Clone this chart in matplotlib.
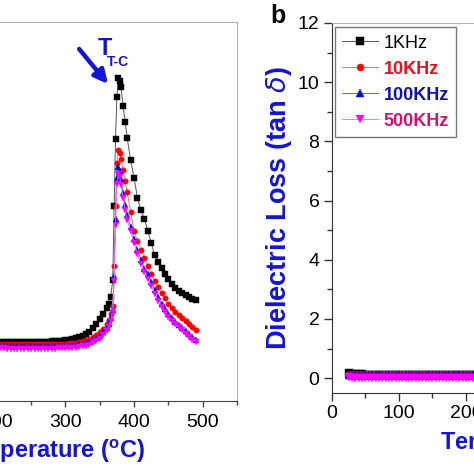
"""Dielectric loss vs temperature, two panels cropped to a 474px square."""
import matplotlib
matplotlib.use('Agg')
import matplotlib.pyplot as plt
from matplotlib.ticker import MultipleLocator

plt.rcParams['font.family'] = ['Liberation Sans', 'DejaVu Sans']
plt.rcParams['mathtext.fontset'] = 'custom'
plt.rcParams['mathtext.rm'] = 'Liberation Sans'
plt.rcParams['mathtext.bf'] = 'Liberation Sans:bold'

# ---- left panel (peak region), temperature in C ----
T_LEFT = [200, 205, 210, 215, 220, 225, 230, 235, 240, 245, 250, 255, 260, 265, 270,
          275, 280, 285, 290, 295, 300, 305, 310, 315, 320, 325, 330, 335, 340, 345,
          350, 355, 360, 363, 366, 369, 371, 373, 375, 377, 379, 381, 384, 387, 390,
          395, 400, 405, 410, 415, 420, 425, 430, 435, 440, 445, 450, 455, 460, 465,
          470, 475, 480, 485, 490]
LEFT_1K = [595, 593, 592, 590, 590, 589, 589, 588, 588, 588, 589, 589, 590, 591, 592,
           594, 596, 598, 600, 604, 608, 613, 620, 628, 638, 650, 668, 695, 730, 772,
           820, 872, 930, 975, 1045, 1210, 1950, 2620, 3040, 3230, 3200, 3140, 2950, 2790, 2630,
           2410, 2230, 2030, 1910, 1820, 1700, 1580, 1460, 1390, 1330, 1270, 1220, 1170, 1130, 1105,
           1080, 1060, 1040, 1025, 1010]
LEFT_10K = [572, 571, 570, 569, 568, 567, 567, 566, 566, 566, 566, 566, 566, 567, 567,
            568, 569, 570, 571, 572, 574, 577, 580, 585, 590, 598, 608, 622, 640, 662,
            690, 722, 770, 810, 870, 950, 1350, 1950, 2380, 2510, 2480, 2420, 2310, 2200, 2090,
            1890, 1700, 1600, 1510, 1430, 1350, 1270, 1200, 1140, 1080, 1030, 975, 930, 890, 860,
            830, 800, 770, 740, 710]
LEFT_100K = [552, 551, 550, 549, 548, 547, 547, 546, 546, 546, 546, 546, 546, 546, 547,
             547, 548, 549, 550, 551, 553, 555, 558, 562, 567, 574, 583, 595, 610, 630,
             655, 690, 735, 775, 835, 915, 1250, 1820, 2230, 2340, 2300, 2220, 2080, 1960, 1860,
             1740, 1620, 1510, 1410, 1320, 1270, 1190, 1110, 1040, 970, 920, 870, 830, 795, 765,
             735, 700, 670, 640, 612]
LEFT_500K = [528, 527, 526, 525, 524, 523, 523, 522, 522, 522, 522, 522, 522, 522, 523,
             523, 524, 525, 526, 527, 528, 530, 532, 535, 540, 546, 554, 565, 580, 600,
             625, 660, 705, 745, 805, 885, 1200, 1760, 2170, 2270, 2240, 2160, 2030, 1910, 1810,
             1700, 1580, 1470, 1375, 1290, 1225, 1150, 1075, 1005, 940, 890, 845, 805, 770, 740,
             710, 675, 645, 615, 590]

# ---- right panel (b), low-temperature part of tan delta ----
T_RIGHT = [25, 30, 35, 40, 45, 50, 55, 60, 65, 70,
           75, 80, 85, 90, 95, 100, 105, 110, 115, 120,
           125, 130, 135, 140, 145, 150, 155, 160, 165, 170,
           175, 180, 185, 190, 195, 200, 205, 210, 215, 220]
TAN_1K = [0.17, 0.14, 0.13, 0.13, 0.13, 0.12, 0.12, 0.12, 0.12, 0.12,
          0.12, 0.12, 0.12, 0.12, 0.11, 0.11, 0.11, 0.11, 0.11, 0.11,
          0.11, 0.11, 0.11, 0.11, 0.11, 0.11, 0.11, 0.11, 0.11, 0.11,
          0.11, 0.11, 0.11, 0.11, 0.11, 0.11, 0.11, 0.11, 0.11, 0.11]
TAN_10K = [0.12, 0.11, 0.11, 0.11, 0.11, 0.11, 0.11, 0.11, 0.11, 0.11,
           0.10, 0.10, 0.10, 0.10, 0.10, 0.10, 0.10, 0.10, 0.10, 0.10,
           0.10, 0.10, 0.10, 0.10, 0.10, 0.10, 0.10, 0.10, 0.10, 0.10,
           0.10, 0.10, 0.10, 0.10, 0.10, 0.10, 0.10, 0.10, 0.10, 0.10]
TAN_100K = [0.12, 0.11, 0.11, 0.11, 0.11, 0.11, 0.11, 0.11, 0.11, 0.11,
            0.11, 0.11, 0.11, 0.11, 0.11, 0.11, 0.11, 0.11, 0.11, 0.11,
            0.11, 0.11, 0.11, 0.11, 0.11, 0.11, 0.11, 0.11, 0.11, 0.11,
            0.11, 0.11, 0.11, 0.11, 0.11, 0.11, 0.11, 0.11, 0.11, 0.11]
TAN_500K = [0.04, 0.02, 0.02, 0.01, 0.01, 0.01, 0.01, 0.01, 0.01, 0.01,
            0.01, 0.01, 0.01, 0.01, 0.01, 0.01, 0.01, 0.01, 0.01, 0.01,
            0.01, 0.01, 0.01, 0.01, 0.01, 0.01, 0.01, 0.01, 0.01, 0.01,
            0.01, 0.01, 0.01, 0.01, 0.01, 0.01, 0.01, 0.01, 0.01, 0.01]

LABELS = ['1KHz', '10KHz', '100KHz', '500KHz']
MARKERS = ['s', 'o', '^', 'v']
COLORS = ['#000000', '#ff0000', '#0000ff', '#ff00ff']
LINE_COLORS = ['#555555', '#ff7070', '#6060ff', '#ff70ff']
TEXT_COLORS = ['#000000', '#e8101c', '#1010b4', '#d0146a']
BLUE = '#1414d2'

fig = plt.figure(figsize=(4.74, 4.74), dpi=100)

# left panel, mostly outside the canvas
ax1 = fig.add_axes([-0.2964, 0.1540, 0.7964, 0.7996])
for ys, m, c, lc in zip([LEFT_1K, LEFT_10K, LEFT_100K, LEFT_500K], MARKERS, COLORS, LINE_COLORS):
    ax1.plot(T_LEFT, ys, color=lc, lw=0.7, marker=m, ms=3.9,
             markerfacecolor=c, markeredgecolor=c, markeredgewidth=0.3)
ax1.set_xlim(0, 550)
ax1.set_ylim(0, 3790)
ax1.xaxis.set_major_locator(MultipleLocator(100))
ax1.xaxis.set_minor_locator(MultipleLocator(50))
ax1.tick_params(axis='x', which='major', direction='out', length=4, width=1,
                labelsize=14, pad=5, color='#444444')
ax1.tick_params(axis='x', which='minor', direction='out', length=3, width=1, color='#444444')
ax1.tick_params(axis='y', left=False, labelleft=False)
ax1.spines['top'].set_color('#b0b0b0')
ax1.spines['right'].set_color('#b0b0b0')
ax1.spines['bottom'].set_color('#444444')
ax1.set_xlabel(r'Temperature ($^\mathbf{o}$C)', fontsize=17, fontweight='bold',
               color=BLUE, labelpad=5)
ax1.annotate('', xy=(362, 3170), xytext=(320, 3520),
             arrowprops=dict(arrowstyle='-|>', color=BLUE, lw=3.2, mutation_scale=20,
                             shrinkA=0, shrinkB=0))
ax1.text(347.5, 3460, 'T', fontsize=17, fontweight='bold', color=BLUE,
         ha='left', va='baseline')
ax1.text(360.6, 3350, 'T-C', fontsize=10, fontweight='bold', color=BLUE,
         ha='left', va='baseline')

# right panel (b)
ax2 = fig.add_axes([0.7004, 0.1709, 0.7774, 0.7806])
handles = []
for ys, lab, m, c, lc in zip([TAN_1K, TAN_10K, TAN_100K, TAN_500K], LABELS, MARKERS, COLORS, LINE_COLORS):
    h, = ax2.plot(T_RIGHT, ys, color=lc, lw=0.7, marker=m, ms=6,
                  markerfacecolor=c, markeredgecolor=c, markeredgewidth=0.3, label=lab)
    handles.append(h)
ax2.set_xlim(0, 550)
ax2.set_ylim(-0.5, 12)
ax2.xaxis.set_major_locator(MultipleLocator(100))
ax2.xaxis.set_minor_locator(MultipleLocator(50))
ax2.yaxis.set_major_locator(MultipleLocator(2))
ax2.yaxis.set_minor_locator(MultipleLocator(1))
ax2.tick_params(which='major', direction='out', length=6, width=1, labelsize=14,
                pad=3, color='#333333')
ax2.tick_params(which='minor', direction='out', length=3.5, width=1, color='#333333')
ax2.spines['top'].set_color('#b0b0b0')
ax2.spines['left'].set_color('#333333')
ax2.spines['bottom'].set_color('#333333')
ax2.set_xlabel(r'Temperature ($^\mathbf{o}$C)', fontsize=17, fontweight='bold',
               color=BLUE, labelpad=5, x=0.556)
ax2.set_ylabel(r'Dielectric Loss (tan $\delta$)', fontsize=19.5, fontweight='bold',
               color=BLUE, labelpad=2.5)

leg = ax2.legend(handles=handles, loc='upper left', bbox_to_anchor=(0.008, 0.988),
                 borderaxespad=0, fontsize=13, frameon=True, fancybox=False,
                 handlelength=2.0, handletextpad=0.3, labelspacing=0.5,
                 borderpad=0.4, markerscale=0.85)
leg.get_frame().set_edgecolor('#555555')
leg.get_frame().set_linewidth(1)
for t, tc, lab in zip(leg.get_texts(), TEXT_COLORS, LABELS):
    t.set_color(tc)
    if lab != '1KHz':
        t.set_fontweight('bold')

fig.text(270 / 474, 1 - 23 / 474, 'b', fontsize=18, fontweight='bold',
         ha='left', va='baseline')

fig.savefig('out.png', dpi=100)
